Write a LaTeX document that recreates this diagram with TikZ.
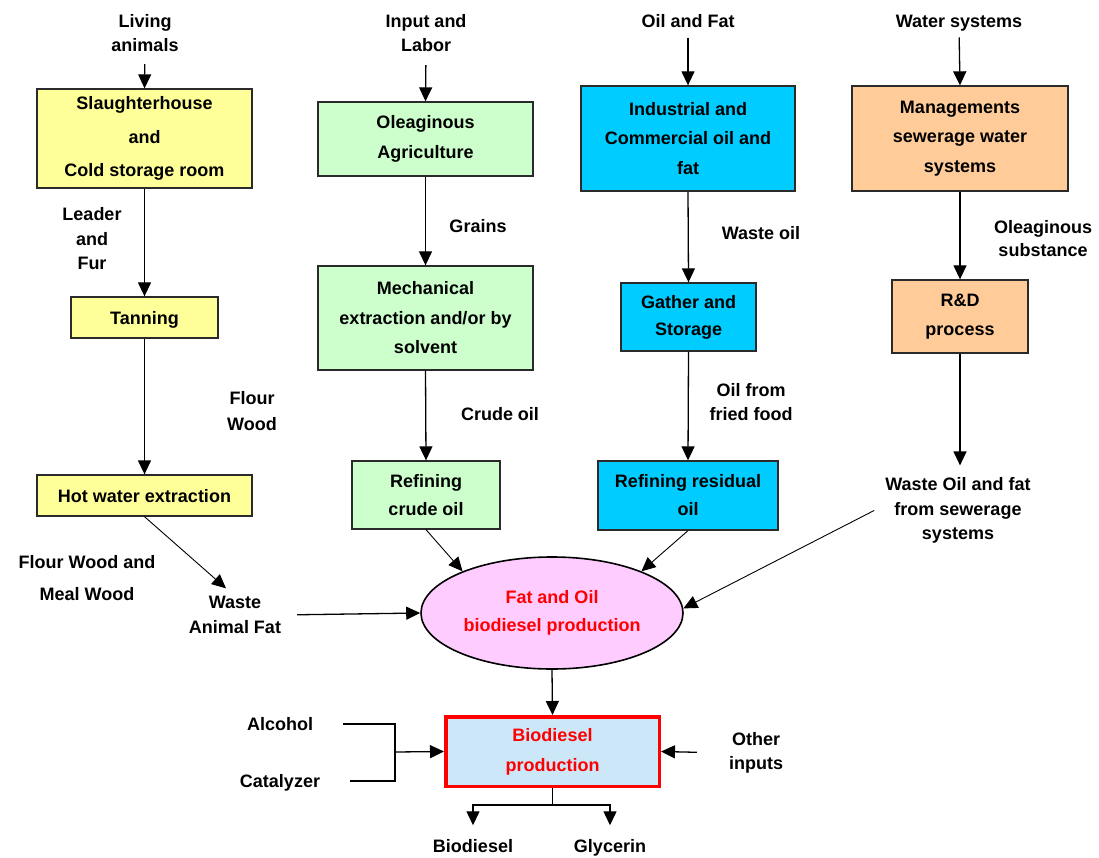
\documentclass[tikz,border=0pt]{standalone}
\usepackage{fontspec}
\setmainfont{Liberation Sans}
\usetikzlibrary{shapes.geometric,arrows.meta}
\definecolor{cyel}{HTML}{FFFF99}
\definecolor{cgreen}{HTML}{CCFFCC}
\definecolor{ccyan}{HTML}{00CCFF}
\definecolor{corange}{HTML}{FFCC99}
\definecolor{cpink}{HTML}{FFCCFF}
\definecolor{cblue}{HTML}{CCE8F8}
\definecolor{cborder}{HTML}{2A2A2A}
\begin{document}
\begin{tikzpicture}[x=1pt,y=-1pt,
  box/.style={draw=cborder, line width=1.3pt, align=center, inner sep=0pt,
    font=\bfseries\fontsize{18}{29.5}\selectfont},
  lbl/.style={align=center, inner sep=0pt, font=\bfseries\fontsize{18}{24.5}\selectfont},
  one/.style={text depth=0pt},
  arr/.style={-{Triangle[length=14pt,width=13pt]}, line width=1.3pt},
  tarr/.style={-{Triangle[length=14pt,width=13pt]}, line width=0.9pt},
  plain/.style={line width=1.2pt}]
\useasboundingbox[fill=white] (0,0) rectangle (1099,858);

% column 1
\node[lbl] (living) at (145,33) {Living\\animals};
\node[box, fill=cyel, minimum width=215, minimum height=99,
  font=\bfseries\fontsize{18}{33.5}\selectfont] (sl) at (144.5,138.5) {Slaughterhouse\\and\\Cold storage room};
\node[lbl] (leader) at (92,239) {Leader\\and\\Fur};
\node[box, one, fill=cyel, minimum width=147, minimum height=41] (tan) at (144.5,317.5) {Tanning};
\node[lbl, font=\bfseries\fontsize{18}{26}\selectfont] (flourw) at (252,411) {Flour\\Wood};
\node[box, one, fill=cyel, minimum width=215, minimum height=41] (hw) at (144.5,495.5) {Hot water extraction};
\node[lbl, font=\bfseries\fontsize{18}{32}\selectfont] (fwmw) at (87,578) {Flour Wood and\\Meal Wood};
\node[lbl] (waste) at (235,615) {Waste\\Animal Fat};

% column 2
\node[lbl] (input) at (426,33) {Input and\\Labor};
\node[box, fill=cgreen, minimum width=215, minimum height=74] (oa) at (425.5,139) {Oleaginous\\Agriculture};
\node[lbl, one] (grains) at (478,226) {Grains};
\node[box, fill=cgreen, minimum width=215, minimum height=104] (me) at (425.5,318) {Mechanical\\extraction and/or by\\solvent};
\node[lbl, one] (crude) at (500,414) {Crude oil};
\node[box, fill=cgreen, minimum width=148, minimum height=68,
  font=\bfseries\fontsize{18}{28}\selectfont] (rc) at (426,495) {Refining\\crude oil};

% column 3
\node[lbl, one] (oilfat) at (688,21) {Oil and Fat};
\node[box, fill=ccyan, minimum width=214, minimum height=105] (ind) at (688,138.5) {Industrial and\\Commercial oil and\\fat};
\node[lbl, one] (wasteoil) at (761,233) {Waste oil};
\node[box, fill=ccyan, minimum width=135, minimum height=68,
  font=\bfseries\fontsize{18}{27}\selectfont] (gs) at (688.5,317) {Gather and\\Storage};
\node[lbl] (oilfrom) at (751,402) {Oil from\\fried food};
\node[box, fill=ccyan, minimum width=180, minimum height=69,
  font=\bfseries\fontsize{18}{28}\selectfont] (rr) at (688,495.5) {Refining residual\\oil};

% column 4
\node[lbl, one] (water) at (959,21) {Water systems};
\node[box, fill=corange, minimum width=216, minimum height=105] (mg) at (960,138.5) {Managements\\sewerage water\\systems};
\node[lbl, font=\bfseries\fontsize{18}{23.5}\selectfont] (oleag) at (1043,238.5) {Oleaginous\\substance};
\node[box, fill=corange, minimum width=136, minimum height=73] (rd) at (960,316.5) {R\&D\\process};
\node[lbl] (wof) at (958,510.5) {Waste Oil and fat\\from sewerage\\systems};

% centre
\node[ellipse, draw=black, fill=cpink, line width=1.6pt, inner sep=0pt,
  minimum width=262, minimum height=112, text=red, align=center,
  font=\bfseries\fontsize{18}{28}\selectfont] (ell) at (552,613) {Fat and Oil\\biodiesel production};
\node[draw=red, line width=3.5pt, fill=cblue, minimum width=213.5, minimum height=69.5,
  inner sep=0pt, text=red, align=center, font=\bfseries\fontsize{18}{30}\selectfont] (bp) at (552.5,751.5) {Biodiesel\\production};
\node[lbl, one] (alcohol) at (280,724) {Alcohol};
\node[lbl, one] (catal) at (280,781) {Catalyzer};
\node[lbl] (other) at (756,753) {Other\\inputs};
\node[lbl, one] (biod) at (473,846) {Biodiesel};
\node[lbl, one] (glyc) at (610,846) {Glycerin};

\coordinate (jn) at (395,752);
\coordinate (split) at (552.5,805);

% connectors
\draw[arr, shorten <=12pt] (living.south) -- (sl.north);
\draw[arr] (sl.south) -- (tan.north);
\draw[arr] (tan.south) -- (hw.north);
\draw[tarr, shorten >=12pt] (hw.south) -- (waste.north);
\draw[arr, shorten <=16pt] (waste.east) -- (ell.west);

\draw[arr, shorten <=13pt] (input.south) -- (oa.north);
\draw[arr] (oa.south) -- (me.north);
\draw[arr] (me.south) -- (rc.north);
\draw[tarr] (rc.south) -- (ell.155);

\draw[arr, shorten <=10pt] (oilfat.south) -- (ind.north);
\draw[arr] (ind.south) -- (gs.north);
\draw[arr] (gs.south) -- (rr.north);
\draw[tarr] (rr.south) -- (ell.25);

\draw[arr, shorten <=10pt] (water.south) -- (mg.north);
\draw[arr] (mg.south) -- (rd.north);
\draw[arr, shorten >=12pt] (rd.south) -- (rd.south |- wof.north);
\draw[tarr] ([xshift=-11pt]wof.west) -- (ell.2);

\draw[arr] (ell.south) -- (bp.north);
\draw[plain] ([xshift=30pt]alcohol.east) -| (jn);
\draw[plain] ([xshift=30pt]catal.east) -| (jn);
\draw[arr] (jn) -- (bp.west);
\draw[arr, shorten <=32pt] (other.west) -- (bp.east);
\draw[plain] (bp.south) -- (split);
\draw[arr, shorten >=14pt] (split) -| (biod.north);
\draw[arr, shorten >=14pt] (split) -| (glyc.north);
\end{tikzpicture}
\end{document}
